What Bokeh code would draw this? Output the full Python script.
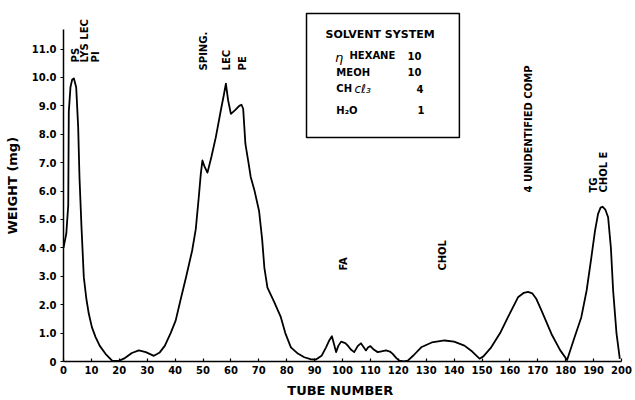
from bokeh.plotting import figure
from bokeh.models import Range1d, FixedTicker, Label, BoxAnnotation, ColumnDataSource
from bokeh.embed import file_html
from bokeh.resources import INLINE
import math

# ---- data ----
tube = [0, 1.0, 1.7, 1.9, 2.5, 3.1, 3.7, 4.55, 5.26, 5.73, 6.45, 7.28, 8.2, 9.07, 10.2, 11.5,
        13.0, 15.05, 17.5, 20.0, 22.0, 24.5, 27.0, 29.5, 32.4, 34.5, 36.3, 38.4, 40.2, 41.9,
        44.0, 46.1, 47.4, 48.5, 49.2, 49.8, 50.6, 51.6, 53.0, 54.6, 56.5, 57.5, 58.2, 59.0,
        60.0, 61.5, 63.0, 63.8, 64.4, 65.2, 66.3, 67.1, 68.5, 70.1, 71.2, 72.0, 73.1, 75.5,
        77.9, 79.5, 81.5, 84.0, 86.3, 88.5, 90.5, 92.5, 94.1, 95.3, 96.2, 97.0, 97.7, 98.5,
        99.5, 101.0, 101.9, 103.0, 104.2, 105.5, 106.6, 107.6, 108.4, 109.2, 110.0, 111.2,
        112.6, 114.0, 115.6, 117.0, 118.0, 119.3, 120.4, 122.0, 123.4, 125.5, 128.2, 132.0,
        136.6, 140.0, 143.7, 146.5, 149.1, 150.5, 153.3, 156.5, 159.3, 162.9, 165.0, 166.5,
        168.0, 169.5, 171.3, 174.9, 178.0, 180.5, 183.0, 185.6, 187.5, 189.2, 190.5, 191.6,
        192.5, 193.2, 194.2, 195.2, 196.2, 197.0, 198.2, 199.4]
weight = [4.0, 4.5, 5.5, 8.8, 9.66, 9.92, 9.97, 9.66, 8.25, 6.49, 4.73, 2.97, 2.2, 1.68, 1.2, 0.86,
          0.55, 0.27, 0.02, 0.03, 0.12, 0.3, 0.39, 0.33, 0.2, 0.32, 0.55, 1.0, 1.44, 2.15,
          3.0, 3.9, 4.65, 5.8, 6.6, 7.08, 6.85, 6.65, 7.2, 7.9, 8.9, 9.4, 9.78, 9.2,
          8.72, 8.85, 9.0, 9.04, 8.9, 7.66, 7.0, 6.5, 6.0, 5.3, 4.3, 3.3, 2.6, 2.1,
          1.56, 1.0, 0.5, 0.28, 0.15, 0.08, 0.07, 0.2, 0.5, 0.75, 0.89, 0.6, 0.33, 0.55,
          0.7, 0.65, 0.56, 0.42, 0.33, 0.55, 0.64, 0.5, 0.39, 0.5, 0.54, 0.42,
          0.33, 0.36, 0.39, 0.35, 0.27, 0.12, 0.03, 0.0, 0.03, 0.22, 0.5, 0.67,
          0.74, 0.7, 0.56, 0.35, 0.1, 0.18, 0.5, 1.0, 1.56, 2.26, 2.42, 2.45,
          2.4, 2.2, 1.8, 0.97, 0.4, 0.05, 0.8, 1.56, 2.5, 3.67, 4.6, 5.2,
          5.42, 5.45, 5.35, 5.08, 4.0, 2.5, 1.0, 0.09]

x_ticks = list(range(0, 201, 10))
y_ticks = list(range(0, 12))
y_tick_labels = ["0"] + [f"{v}.0" for v in range(1, 12)]

peak_labels = ["PS", "LYS LEC", "PI", "SPING.", "LEC", "PE", "FA", "CHOL",
               "4 UNIDENTIFIED COMP", "TG", "CHOL E"]
solvent_names = ["HEXANE", "MEOH", "CH", "H\u2082O"]
solvent_parts = ["10", "10", "4", "1"]

FONT = "DejaVu Sans"

p = figure(width=635, height=400, output_backend="svg", toolbar_location=None,
           x_range=Range1d(0, 200), y_range=Range1d(0, 12.535))
p.min_border_left = 63
p.min_border_right = 14
p.min_border_top = 5
p.min_border_bottom = 39
p.outline_line_color = None
p.xgrid.visible = False
p.ygrid.visible = False
p.background_fill_color = "white"
p.border_fill_color = "white"

src = ColumnDataSource(dict(t=tube, w=weight))
p.line("t", "w", source=src, line_color="black", line_width=1.8, line_join="round")

# axes
xa = p.xaxis[0]
ya = p.yaxis[0]
xa.ticker = FixedTicker(ticks=x_ticks)
ya.ticker = FixedTicker(ticks=y_ticks)
ya.major_label_overrides = {t: l for t, l in zip(y_ticks, y_tick_labels)}
xa.bounds = (0, 200)
ya.bounds = (0, 11.7)
for ax in (xa, ya):
    ax.axis_line_width = 1.5
    ax.axis_line_color = "black"
    ax.major_tick_line_color = "black"
    ax.major_tick_line_width = 1.2
    ax.minor_tick_line_color = None
    ax.major_label_text_font = FONT
    ax.major_label_text_font_style = "bold"
    ax.major_label_text_font_size = "10px"
    ax.major_label_text_color = "black"
    ax.axis_label_text_font = FONT
    ax.axis_label_text_font_style = "bold"
    ax.axis_label_text_font_size = "13px"
    ax.axis_label_text_color = "black"
xa.major_tick_in = 3
xa.major_tick_out = 0
xa.major_label_standoff = 4
xa.axis_label = "TUBE  NUMBER"
xa.axis_label_standoff = 6
ya.major_tick_in = 0
ya.major_tick_out = 3
ya.major_label_standoff = 4
ya.axis_label = "WEIGHT  (mg)"
ya.axis_label_standoff = 9

# rotated peak labels (anchor at bottom of text)
label_pos = [(4.3, 10.53), (7.7, 10.53), (11.3, 10.53), (50.3, 10.25), (58.4, 10.25),
             (64.0, 10.25), (100.5, 3.2), (135.7, 3.2), (166.8, 5.95), (189.8, 5.95),
             (193.7, 5.95)]
for txt, (tx, ty) in zip(peak_labels, label_pos):
    p.add_layout(Label(x=tx, y=ty, text=txt, angle=math.pi / 2, text_align="left",
                       text_baseline="middle", text_font=FONT, text_font_style="bold",
                       text_font_size="10px", text_color="black"))

# solvent system box
p.add_layout(BoxAnnotation(left=87.1, right=141.9, bottom=7.89, top=12.25,
                           fill_color=None, fill_alpha=0, line_color="black",
                           line_alpha=1.0, line_width=1.5))
p.add_layout(Label(x=93.9, y=11.51, text="SOLVENT  SYSTEM", text_baseline="middle",
                   text_font=FONT, text_font_style="bold", text_font_size="11px",
                   text_color="black"))
row_y = [10.77, 10.18, 9.61, 8.84]
name_x = [102.5, 97.8, 97.8, 97.8]
part_x = [123.3, 123.3, 126.5, 126.9]
for nm, pt, ry, nx, px_ in zip(solvent_names, solvent_parts, row_y, name_x, part_x):
    p.add_layout(Label(x=nx, y=ry, text=nm, text_baseline="middle", text_font=FONT,
                       text_font_style="bold", text_font_size="10px", text_color="black"))
    p.add_layout(Label(x=px_, y=ry, text=pt, text_baseline="middle", text_font=FONT,
                       text_font_style="bold", text_font_size="10px", text_color="black"))
p.add_layout(Label(x=97.3, y=10.7, text="\u03b7", text_baseline="middle", text_font=FONT,
                   text_font_style="italic", text_font_size="13px", text_color="black"))
p.add_layout(Label(x=104.3, y=9.61, text="c\u2113\u2083", text_baseline="middle",
                   text_font=FONT, text_font_style="italic", text_font_size="12px",
                   text_color="black"))

open("out.html", "w").write(file_html(p, INLINE))
